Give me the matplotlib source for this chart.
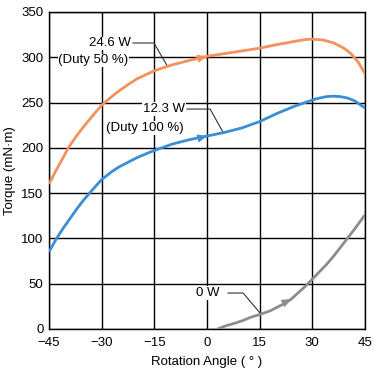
import matplotlib
matplotlib.use("Agg")
import matplotlib.pyplot as plt

plt.rcParams['font.family'] = ['Liberation Sans', 'DejaVu Sans']

# values
angle_50 = [-45, -43, -41, -39.5, -37, -35, -32, -30, -27, -25, -22, -20, -17, -15, -12, -10, -5, 0, 5, 10, 15, 20, 25, 28, 30, 33, 36, 39, 41, 43, 45]
torque_50 = [160, 175, 189, 200, 214, 224, 238, 247, 257, 263, 271, 276, 281.5, 285, 289, 291.5, 296.5, 301, 304, 307, 310, 314, 317.5, 319.5, 320, 319, 316, 310, 304, 295, 282]

angle_100 = [-45, -43, -41, -39, -37, -35, -33, -30, -27, -25, -22, -20, -17, -15, -10, -5, 0, 5, 10, 15, 20, 25, 28, 31, 34, 36, 38, 40, 42, 45]
torque_100 = [85, 99, 111, 122, 133, 143, 152, 165, 174, 179, 185, 189, 194, 197, 204, 209, 213, 217, 222, 229, 238, 246, 250, 254, 256.5, 257, 256.5, 255, 252, 244]

angle_0 = [3, 5, 8, 10, 12.5, 15, 18, 20, 22, 24, 26, 28, 30, 32, 34, 36, 38, 40, 42, 45]
torque_0 = [0, 3, 6.5, 9, 13, 16, 20, 24, 28, 33, 40, 47, 55, 63, 71, 80, 90, 100, 110, 126]

xticks = [-45, -30, -15, 0, 15, 30, 45]
xticklabels = ['\u221245', '\u221230', '\u221215', '0', '15', '30', '45']
yticks = [0, 50, 100, 150, 200, 250, 300, 350]

c_orange = '#F4915C'
c_blue = '#3A8ED6'
c_gray = '#8C8C8C'

fig = plt.figure(figsize=(3.77, 3.73), dpi=100)
ax = fig.add_axes([0.130, 0.118, 0.838, 0.850])

ax.plot(angle_50, torque_50, color=c_orange, lw=2, solid_capstyle='butt', zorder=3)
ax.plot(angle_100, torque_100, color=c_blue, lw=2, solid_capstyle='butt', zorder=3)
ax.plot(angle_0, torque_0, color=c_gray, lw=2, solid_capstyle='butt', zorder=3)

# direction arrows on the curves
for (x0, y0), (x1, y1), c in [((-4, 297), (0, 301), c_orange),
                              ((-4, 209), (0, 213), c_blue),
                              ((20.5, 26), (24, 33), c_gray)]:
    ax.annotate('', xy=(x1, y1), xytext=(x0, y0),
                arrowprops=dict(arrowstyle='-|>,head_length=0.7,head_width=0.3',
                                color=c, lw=0, shrinkA=0, shrinkB=0), zorder=4)

# leader lines
ax.plot([-21.1, -15.1, -11.4], [315.7, 315.7, 291], color='#333333', lw=0.8, zorder=2.5)
ax.plot([-5.7, 0.9, 4.6], [242.8, 242.8, 217], color='#333333', lw=0.8, zorder=2.5)
ax.plot([6.0, 10.3, 15.1], [39.7, 39.7, 17.7], color='#333333', lw=0.8, zorder=2.5)

bbox = dict(facecolor='white', edgecolor='none', pad=0.5)
ax.text(-21.8, 315.5, '24.6 W', ha='right', va='center', fontsize=9.5, bbox=bbox, zorder=5)
ax.text(-42.3, 296.5, '(Duty 50 %)', ha='left', va='center', fontsize=9.5, bbox=bbox, zorder=5)
ax.text(-6.3, 243, '12.3 W', ha='right', va='center', fontsize=9.5, bbox=bbox, zorder=5)
ax.text(-6.6, 222, '(Duty 100 %)', ha='right', va='center', fontsize=9.5, bbox=bbox, zorder=5)
ax.text(3.7, 39.7, '0 W', ha='right', va='center', fontsize=9.5, bbox=bbox, zorder=5)

ax.set_xlim(-45, 45)
ax.set_ylim(0, 350)
ax.set_xticks(xticks)
ax.set_xticklabels(xticklabels)
ax.set_yticks(yticks)
ax.tick_params(length=0, labelsize=9.5)
ax.tick_params(axis='x', pad=6)
ax.tick_params(axis='y', pad=4)
ax.grid(True, color='black', lw=1)
ax.set_axisbelow(True)
for s in ax.spines.values():
    s.set_color('black')
    s.set_linewidth(1)

ax.set_xlabel('Rotation Angle ( \u00b0 )', fontsize=9.5, labelpad=5)
ax.set_ylabel('Torque (mN\u00b7m)', fontsize=9.5, labelpad=4)

fig.savefig('out.png', dpi=100)
